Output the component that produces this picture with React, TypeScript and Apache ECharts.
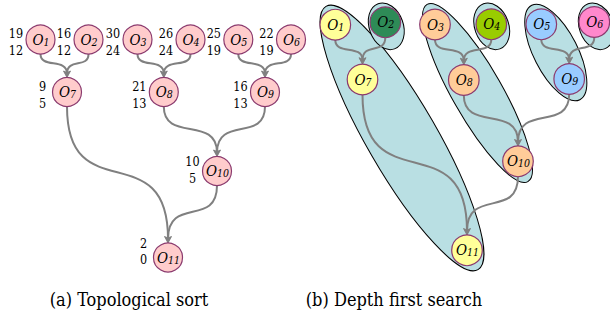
import React, { useEffect, useRef } from 'react';
import * as echarts from 'echarts';

// ---- data ----
const nodeIds = ['1', '2', '3', '4', '5', '6', '7', '8', '9', '10', '11'];
// (a) topological sort layout
const leftX = [40.5, 88.5, 137.5, 190.5, 238.3, 291, 67, 163.8, 265, 217, 168];
const leftY = [39.5, 39.5, 39.5, 39.5, 39.5, 39.5, 92, 92, 92, 171, 257.5];
const leftUpper = [19, 16, 30, 26, 25, 22, 9, 21, 16, 10, 2];
const leftLower = [12, 12, 24, 24, 19, 19, 5, 13, 13, 5, 0];
const labelShift = [-6, -6, -6, -6, -6, -6, -5.5, -5.5, -5.5, -9.5, -14.5];
// (b) depth first search layout
const rightX = [335.3, 385.3, 435, 491.3, 541.3, 594.3, 362.5, 463.8, 569.2, 518, 467];
const rightY = [24.7, 22.3, 24.5, 24.3, 24.3, 22, 79.5, 80, 79, 161.3, 250.3];
const rightColors = ['#FFFF99', '#2E8B57', '#FFCC99', '#99CC00', '#99CCFF', '#FF88CC',
  '#FFFF99', '#FFCC99', '#99CCFF', '#FFCC99', '#FFFF99'];
// edges (1-based node ids)
const edgeFrom = [1, 2, 3, 4, 5, 6, 7, 8, 9, 10];
const edgeTo = [7, 7, 8, 8, 9, 9, 11, 10, 10, 11];
// DFS groups (ellipses)
const groupCx = [402, 386.3, 477.5, 491.7, 555.8, 596.3];
const groupCy = [138, 26.3, 93, 26.3, 52.5, 26.3];
const groupA = [152, 24, 102, 24, 53, 24];
const groupB = [35, 17, 25, 17, 22, 17];
const groupTilt = [30, 20, 29.6, 20, 27, 20];
// captions
const captions = ['(a) Topological sort', '(b) Depth first search'];
const captionX = [124, 389];
const captionY = [297, 297];

const SERIF = "'DejaVu Serif Condensed', 'DejaVu Serif'";
const EDGE = '#808080';
const BORDER = '#8B3A6E';
const LEFT_R = 14.5;
const RIGHT_R = 15.3;

const richLabel = {
  o: { fontFamily: SERIF, fontStyle: 'italic', fontSize: 15, lineHeight: 15, verticalAlign: 'middle', color: '#000' },
  s: { fontFamily: SERIF, fontStyle: 'italic', fontSize: 10.5, lineHeight: 7, verticalAlign: 'bottom', color: '#000' },
};

function renderEdge(r: number) {
  return (params: any, api: any) => {
    const p0 = api.coord([api.value(0), api.value(1)]);
    const p1 = api.coord([api.value(2), api.value(3)]);
    const rp = Math.abs(api.size([r, r])[1]);
    const x0 = p0[0];
    const y0 = p0[1] + rp;
    const x1 = p1[0];
    const yTip = p1[1] - rp;
    const yEnd = yTip - 5;
    const k = 0.8 * (yEnd - y0);
    return {
      type: 'group',
      children: [
        {
          type: 'bezierCurve',
          shape: { x1: x0, y1: y0, cpx1: x0, cpy1: y0 + k, cpx2: x1, cpy2: yEnd - k, x2: x1, y2: yEnd + 1 },
          style: { stroke: EDGE, lineWidth: 2, fill: 'none' },
        },
        {
          type: 'polygon',
          shape: { points: [[x1, yTip], [x1 - 3.5, yEnd - 1.5], [x1, yEnd], [x1 + 3.5, yEnd - 1.5]] },
          style: { fill: EDGE, stroke: EDGE, lineWidth: 0.5 },
        },
      ],
    };
  };
}

export default function App() {
  const ref = useRef<HTMLDivElement>(null);
  useEffect(() => {
    if (!ref.current) return;
    const chart = echarts.init(ref.current, undefined, { renderer: 'svg' });

    const edgeDataL = edgeFrom.map((f, i) => [leftX[f - 1], leftY[f - 1], leftX[edgeTo[i] - 1], leftY[edgeTo[i] - 1]]);
    const edgeDataR = edgeFrom.map((f, i) => [rightX[f - 1], rightY[f - 1], rightX[edgeTo[i] - 1], rightY[edgeTo[i] - 1]]);
    const leftNodes = nodeIds.map((id, i) => [leftX[i], leftY[i], leftUpper[i], leftLower[i], labelShift[i]]);
    const rightNodes = nodeIds.map((id, i) => [rightX[i], rightY[i]]);
    const groups = groupCx.map((cx, i) => [cx, groupCy[i], groupA[i], groupB[i], groupTilt[i]]);

    chart.setOption({
      animation: false,
      backgroundColor: '#ffffff',
      textStyle: { fontFamily: SERIF },
      grid: { left: 0, right: 0, top: 0, bottom: 0 },
      xAxis: { type: 'value', min: 0, max: 610, show: false },
      yAxis: { type: 'value', min: 0, max: 324, inverse: true, show: false },
      title: captions.map((t, i) => ({
        text: t,
        left: captionX[i],
        top: captionY[i] - 12,
        textAlign: 'center',
        textStyle: { fontFamily: SERIF, fontSize: 18, fontWeight: 'normal', color: '#000' },
      })),
      series: [
        {
          type: 'custom',
          name: 'groups',
          z: 1,
          clip: false,
          data: groups,
          renderItem: (params: any, api: any) => {
            const c = api.coord([api.value(0), api.value(1)]);
            const s = api.size([api.value(2), api.value(3)]);
            return {
              type: 'ellipse',
              x: c[0],
              y: c[1],
              rotation: (api.value(4) * Math.PI) / 180,
              shape: { cx: 0, cy: 0, rx: Math.abs(s[0] * api.value(3) / api.value(2)), ry: Math.abs(s[0]) },
              style: { fill: '#B9DFE3', stroke: '#000', lineWidth: 1 },
            };
          },
        },
        {
          type: 'custom',
          name: 'edgesA',
          z: 2,
          clip: false,
          data: edgeDataL,
          renderItem: renderEdge(LEFT_R),
        },
        {
          type: 'custom',
          name: 'edgesB',
          z: 2,
          clip: false,
          data: edgeDataR,
          renderItem: renderEdge(RIGHT_R),
        },
        {
          type: 'custom',
          name: 'nodesA',
          z: 3,
          clip: false,
          data: leftNodes,
          renderItem: (params: any, api: any) => {
            const c = api.coord([api.value(0), api.value(1)]);
            const r = Math.abs(api.size([LEFT_R, LEFT_R])[0]);
            const id = nodeIds[params.dataIndex];
            const sh = api.value(4);
            return {
              type: 'group',
              children: [
                {
                  type: 'circle',
                  shape: { cx: c[0], cy: c[1], r },
                  style: { fill: '#FFCCCC', stroke: BORDER, lineWidth: 1.2 },
                },
                {
                  type: 'text',
                  x: c[0] + 0.5,
                  y: c[1],
                  style: { text: `{o|O}{s|${id}}`, rich: richLabel, align: 'center', verticalAlign: 'middle', fontFamily: SERIF },
                },
                {
                  type: 'text',
                  x: c[0] - 24.5,
                  y: c[1] + sh,
                  style: { text: String(api.value(2)), fontFamily: SERIF, fontSize: 12.5, fill: '#000', align: 'center', verticalAlign: 'middle' },
                },
                {
                  type: 'text',
                  x: c[0] - 24.5,
                  y: c[1] + sh + 16.5,
                  style: { text: String(api.value(3)), fontFamily: SERIF, fontSize: 12.5, fill: '#000', align: 'center', verticalAlign: 'middle' },
                },
              ],
            };
          },
        },
        {
          type: 'custom',
          name: 'nodesB',
          z: 3,
          clip: false,
          data: rightNodes,
          renderItem: (params: any, api: any) => {
            const c = api.coord([api.value(0), api.value(1)]);
            const r = Math.abs(api.size([RIGHT_R, RIGHT_R])[0]);
            const id = nodeIds[params.dataIndex];
            return {
              type: 'group',
              children: [
                {
                  type: 'circle',
                  shape: { cx: c[0], cy: c[1], r },
                  style: { fill: rightColors[params.dataIndex], stroke: BORDER, lineWidth: 1.2 },
                },
                {
                  type: 'text',
                  x: c[0] + 0.5,
                  y: c[1],
                  style: { text: `{o|O}{s|${id}}`, rich: richLabel, align: 'center', verticalAlign: 'middle', fontFamily: SERIF },
                },
              ],
            };
          },
        },
      ],
    });
    return () => chart.dispose();
  }, []);

  return (
    <div
      ref={ref}
      style={{ position: 'fixed', left: 0, top: 0, width: 610, height: 324, background: '#fff' }}
    />
  );
}
